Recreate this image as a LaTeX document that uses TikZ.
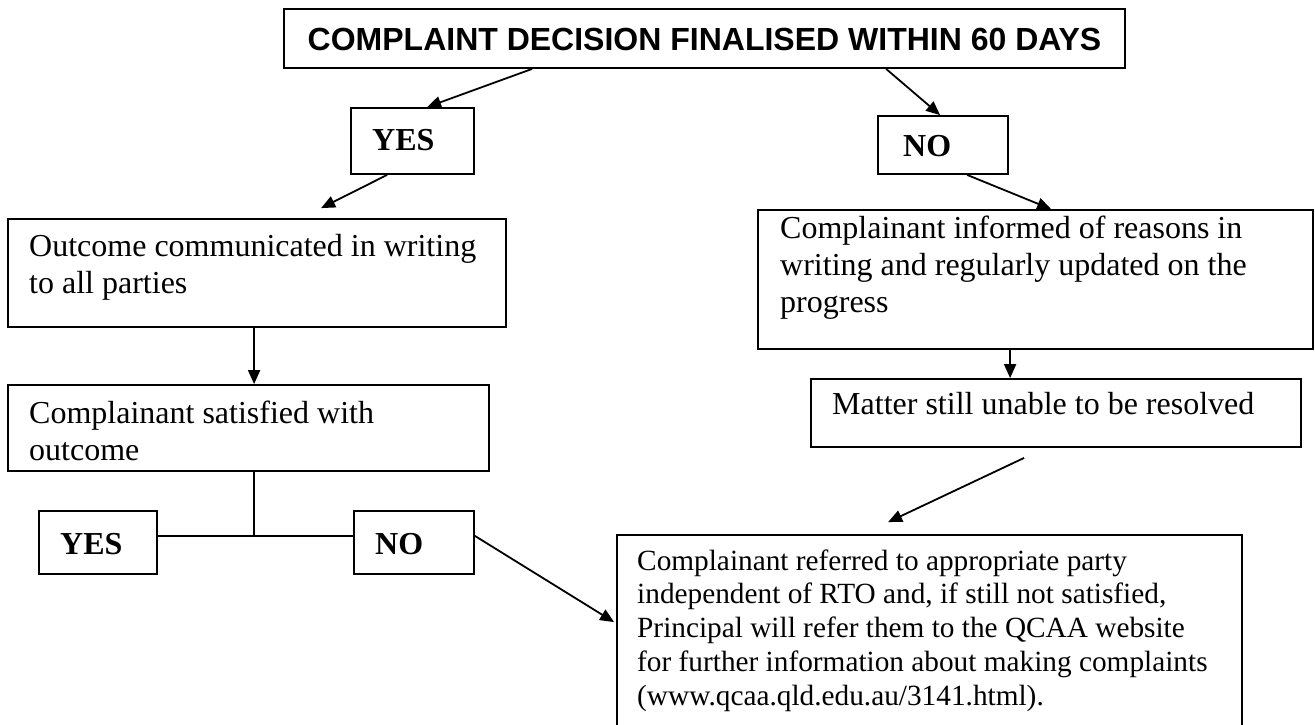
\documentclass[tikz,border=0pt]{standalone}
\usepackage{fontspec}
\setmainfont{Liberation Serif}
\newfontfamily\titlefont{Liberation Sans}
\usetikzlibrary{arrows.meta,calc}
\begin{document}
\begin{tikzpicture}[x=1pt,y=-1pt,
  boxshape/.style={draw=black,line width=1.8pt,rectangle,inner sep=0pt},
  conn/.style={line width=1.8pt,draw=black},
  arr/.style={conn,-{Triangle[length=14pt,width=12pt]}},
  bodytext/.style={inner sep=0pt,anchor=north west,align=left,font=\fontsize{32}{36.8}\selectfont},
  smalltext/.style={inner sep=0pt,anchor=north west,align=left,font=\fontsize{29.3}{33.75}\selectfont},
  yesno/.style={inner sep=0pt,anchor=base west,font=\fontsize{32}{36.8}\selectfont\bfseries},
  titletextstyle/.style={inner sep=0pt,anchor=base,font=\titlefont\bfseries\fontsize{32}{36.8}\selectfont}
]
\useasboundingbox (0,0) rectangle (1315,724);
\clip (0,0) rectangle (1315,724);

% boxes
\node[boxshape,minimum width=841pt,minimum height=59pt] (title) at (704.5,38.5) {};
\node[boxshape,minimum width=123pt,minimum height=66pt] (yes1) at (412.5,141) {};
\node[boxshape,minimum width=130pt,minimum height=58pt] (no1) at (943,145) {};
\node[boxshape,minimum width=498pt,minimum height=108pt] (box1) at (257,273) {};
\node[boxshape,minimum width=481pt,minimum height=86pt] (box2) at (248.5,428) {};
\node[boxshape,minimum width=555pt,minimum height=139pt] (right) at (1035.5,279.5) {};
\node[boxshape,minimum width=490pt,minimum height=68pt] (matter) at (1056,413) {};
\node[boxshape,minimum width=625pt,minimum height=225pt] (bottom) at (929.5,647.5) {};
\node[boxshape,minimum width=118pt,minimum height=63pt] (yes2) at (98,542.5) {};
\node[boxshape,minimum width=120pt,minimum height=63pt] (no2) at (414,542.5) {};

% texts
\node[titletextstyle] (titletext) at (704.5,50) {COMPLAINT DECISION FINALISED WITHIN 60 DAYS};
\node[yesno] (yes1text) at (372,150) {YES};
\node[yesno] (no1text) at (903,156) {NO};
\node[bodytext] (box1text) at (29,234.2) {Outcome communicated in writing\\to all parties};
\begin{scope}
\clip (8,385) rectangle (489,460);
\node[bodytext] (box2text) at (29,401.2) {Complainant satisfied with\\outcome};
\end{scope}
\node[bodytext] (righttext) at (780,216.2) {Complainant informed of reasons in\\writing and regularly updated on the\\progress};
\node[bodytext] (mattertext) at (832,392.2) {Matter still unable to be resolved};
\node[smalltext] (bottomtext) at (637,549.4) {Complainant referred to appropriate party\\independent of RTO and, if still not satisfied,\\Principal will refer them to the QCAA website\\for further information about making complaints\\(www.qcaa.qld.edu.au/3141.html).};
\node[yesno] (yes2text) at (60,554) {YES};
\node[yesno] (no2text) at (375,554) {NO};

% connectors
\draw[arr] ($(title.south west)+(249,0)$) -- ($(yes1.north west)+(77,0)$);
\draw[arr] ($(title.south west)+(603,0)$) -- ($(no1.north west)+(63,0)$);
\draw[arr] ($(yes1.south west)+(37,0)$) -- ($(box1.north west)+(314,-10)$);
\draw[arr] ($(no1.south west)+(90,0)$) -- ($(right.north west)+(294,0)$);
\draw[arr] ($(box1.south west)+(247,0)$) -- ($(box2.north west)+(247,0)$);
\draw[arr] ($(right.south west)+(253,0)$) -- ($(matter.north west)+(200,0)$);
\draw[arr] ($(matter.south west)+(214,10)$) -- ($(bottom.north west)+(272,-12)$);
\coordinate (jn) at ($(box2.south west)+(247,64)$);
\draw[conn] ($(box2.south west)+(247,0)$) -- (jn);
\draw[conn] (yes2.east |- jn) -- (no2.west |- jn);
\draw[arr] (no2.east |- jn) -- ($(bottom.north west)+(-2,88)$);
\end{tikzpicture}
\end{document}
